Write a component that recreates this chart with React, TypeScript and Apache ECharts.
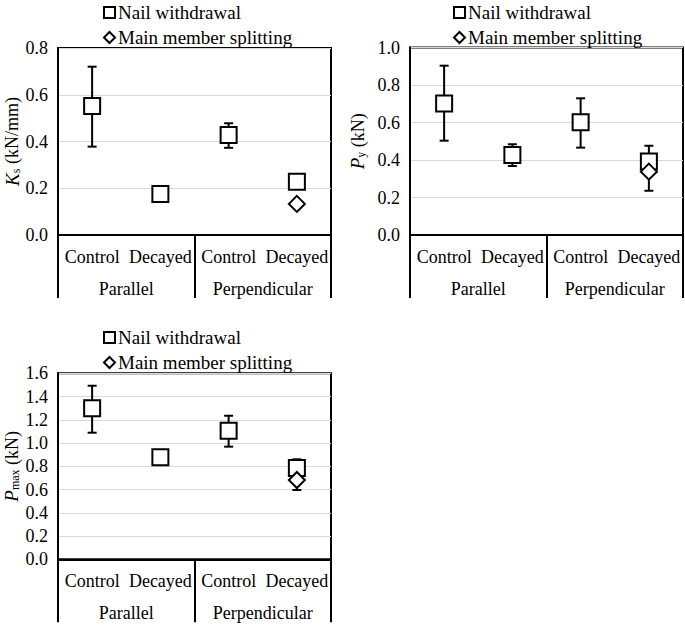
import React, { useEffect, useRef } from "react";
import * as echarts from "echarts";

const FONT = "Liberation Serif";

const subCategories = ["Control", "Decayed", "Control", "Decayed"];
const groups = ["Parallel", "Perpendicular"];
const legendNames = ["Nail withdrawal", "Main member splitting"];

// Panel 1: Ks (kN/mm)
const ksNail = [0.552, 0.175, 0.428, 0.228];
const ksSplit: (number | string)[] = ["-", "-", "-", 0.133];
const ksErr: (number[] | null)[] = [[0.378, 0.72], null, [0.373, 0.478], null];

// Panel 2: Py (kN)
const pyNail = [0.702, 0.427, 0.601, 0.392];
const pySplit: (number | string)[] = ["-", "-", "-", 0.338];
const pyErr: (number[] | null)[] = [[0.503, 0.903], [0.368, 0.484], [0.466, 0.729], [0.236, 0.476]];

// Panel 3: Pmax (kN)
const pmNail = [1.299, 0.877, 1.106, 0.785];
const pmSplit: (number | string)[] = ["-", "-", "-", 0.682];
const pmErr: (number[] | null)[] = [[1.089, 1.493], null, [0.969, 1.235], [0.596, 0.86]];

const yTicks1 = { min: 0, max: 0.8, interval: 0.2 };
const yTicks2 = { min: 0, max: 1.0, interval: 0.2 };
const yTicks3 = { min: 0, max: 1.6, interval: 0.2 };

export default function App() {
  const ref = useRef<HTMLDivElement>(null);
  useEffect(() => {
    if (!ref.current) return;
    const chart = echarts.init(ref.current, null, { renderer: "svg" });

    const grids = [
      { left: 58, top: 48, width: 273, height: 187 },
      { left: 410, top: 47.5, width: 273, height: 187.5 },
      { left: 58, top: 373.3, width: 273, height: 186 },
    ];
    const yDefs = [yTicks1, yTicks2, yTicks3];
    const yNames = [
      "{i|K}{s|s}{n| (kN/mm)}",
      "{i|P}{s|y}{n| (kN)}",
      "{i|P}{s|max}{n| (kN)}",
    ];
    const nameGaps = [36, 43, 37];
    const legendPos = [
      { left: 103, top: 3 },
      { left: 453, top: 3 },
      { left: 103, top: 328 },
    ];
    const nails = [ksNail, pyNail, pmNail];
    const splits = [ksSplit, pySplit, pmSplit];
    const errs = [ksErr, pyErr, pmErr];

    const xAxis: any[] = [];
    const yAxis: any[] = [];
    const series: any[] = [];
    const legend: any[] = [];

    grids.forEach((g, i) => {
      xAxis.push({
        type: "category",
        gridIndex: i,
        data: subCategories,
        position: "bottom",
        axisLine: { show: true, lineStyle: { color: "#000", width: 2 } },
        axisTick: { show: false },
        axisLabel: {
          interval: 0,
          margin: 13,
          fontFamily: FONT,
          fontSize: 18,
          color: "#000",
        },
        splitLine: { show: false },
      });
      xAxis.push({
        type: "category",
        gridIndex: i,
        data: groups,
        position: "bottom",
        axisLine: { show: false },
        axisTick: {
          show: true,
          interval: 0,
          length: 63,
          lineStyle: { color: "#000", width: 2 },
        },
        axisLabel: {
          interval: 0,
          margin: 45,
          fontFamily: FONT,
          fontSize: 18,
          color: "#000",
        },
        splitLine: { show: false },
      });
      yAxis.push({
        type: "value",
        gridIndex: i,
        min: yDefs[i].min,
        max: yDefs[i].max,
        interval: yDefs[i].interval,
        axisLine: { show: true, lineStyle: { color: "#000", width: 2 } },
        axisTick: { show: false },
        axisLabel: {
          margin: 10,
          fontFamily: FONT,
          fontSize: 18,
          color: "#000",
          formatter: (v: number) => v.toFixed(1),
        },
        splitLine: { show: true, lineStyle: { color: "#d9d9d9", width: 1 } },
        name: yNames[i],
        nameLocation: "middle",
        nameGap: nameGaps[i],
        nameTextStyle: {
          fontFamily: FONT,
          fontSize: 18,
          color: "#000",
          rich: {
            i: { fontFamily: FONT, fontSize: 19, fontStyle: "italic", color: "#000" },
            s: {
              fontFamily: FONT,
              fontSize: 12,
              color: "#000",
              verticalAlign: "bottom",
              lineHeight: 8,
            },
            n: { fontFamily: FONT, fontSize: 18, color: "#000" },
          },
        },
      });

      const errData = errs[i]
        .map((e, idx) => (e ? [idx, e[0], e[1]] : null))
        .filter((d) => d !== null);
      series.push({
        type: "custom",
        name: "err" + i,
        xAxisIndex: i * 2,
        yAxisIndex: i,
        z: 1,
        data: errData,
        encode: { x: 0, y: [1, 2] },
        renderItem: (params: any, api: any) => {
          const x = api.value(0);
          const lo = api.coord([x, api.value(1)]);
          const hi = api.coord([x, api.value(2)]);
          const hw = 4.5;
          const st = { stroke: "#000", lineWidth: 2 };
          return {
            type: "group",
            children: [
              { type: "line", shape: { x1: lo[0], y1: lo[1], x2: hi[0], y2: hi[1] }, style: st },
              { type: "line", shape: { x1: hi[0] - hw, y1: hi[1], x2: hi[0] + hw, y2: hi[1] }, style: st },
              { type: "line", shape: { x1: lo[0] - hw, y1: lo[1], x2: lo[0] + hw, y2: lo[1] }, style: st },
            ],
          };
        },
      });
      series.push({
        type: "scatter",
        name: legendNames[0],
        xAxisIndex: i * 2,
        yAxisIndex: i,
        z: 2,
        symbol: "rect",
        symbolSize: 16,
        itemStyle: { color: "#fff", borderColor: "#000", borderWidth: 2, opacity: 1 },
        data: nails[i],
      });
      series.push({
        type: "scatter",
        name: legendNames[1],
        xAxisIndex: i * 2,
        yAxisIndex: i,
        z: 3,
        symbol: "diamond",
        symbolSize: 16,
        itemStyle: { color: "#fff", borderColor: "#000", borderWidth: 2, opacity: 1 },
        data: splits[i],
      });
      legend.push({
        ...legendPos[i],
        orient: "vertical",
        padding: 0,
        itemWidth: 11,
        itemHeight: 11,
        itemGap: 6,
        selectedMode: false,
        itemStyle: { color: "#fff", borderColor: "#000", borderWidth: 2 },
        textStyle: { fontFamily: FONT, fontSize: 19, color: "#000", padding: [0, 0, 0, -2] },
        data: [
          { name: legendNames[0], icon: "rect" },
          { name: legendNames[1], icon: "diamond" },
        ],
      });
    });

    chart.setOption({
      animation: false,
      backgroundColor: "#fff",
      textStyle: { fontFamily: FONT },
      grid: grids.map((g) => ({
        ...g,
        show: true,
        borderColor: "#000",
        borderWidth: 2,
        backgroundColor: "transparent",
        containLabel: false,
      })),
      legend,
      xAxis,
      yAxis,
      series,
    });
    return () => chart.dispose();
  }, []);
  return (
    <div
      ref={ref}
      style={{ position: "absolute", left: 0, top: 0, width: 685, height: 625 }}
    />
  );
}
